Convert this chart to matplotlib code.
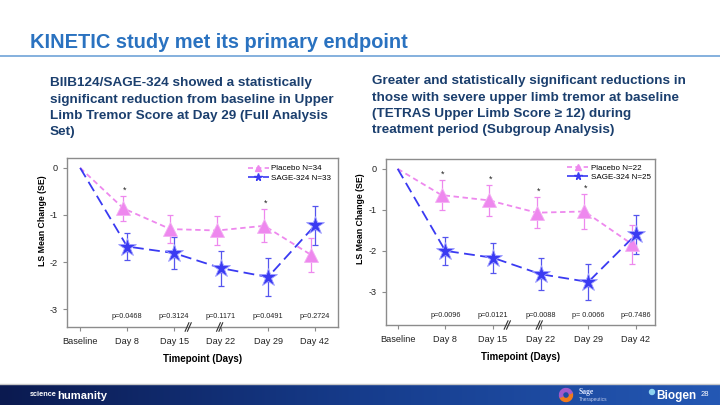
import numpy as np
import matplotlib.pyplot as plt
from matplotlib.lines import Line2D
from matplotlib.patches import Wedge
from matplotlib.colors import LinearSegmentedColormap

plt.rcParams['font.family'] = ['Liberation Sans', 'DejaVu Sans']

# ---------------- data ----------------
timepoints = ['Baseline', 'Day 8', 'Day 15', 'Day 22', 'Day 29', 'Day 42']
ytick_vals = [0, -1, -2, -3]
ytick_labels = ['0', '-1', '-2', '-3']

# full analysis set
fas_placebo = [0, -0.86, -1.30, -1.33, -1.23, -1.85]
fas_placebo_se = [0, 0.26, 0.30, 0.31, 0.35, 0.37]
fas_sage = [0, -1.67, -1.81, -2.13, -2.32, -1.22]
fas_sage_se = [0, 0.29, 0.34, 0.37, 0.40, 0.41]
fas_pvals = ['p=0.0468', 'p=0.3124', 'p=0.1171', 'p=0.0491', 'p=0.2724']
fas_signif = [True, False, False, True, False]
fas_n = ('Placebo N=34', 'SAGE-324 N=33')

# severe subgroup
sub_placebo = [0, -0.64, -0.77, -1.07, -1.04, -1.84]
sub_placebo_se = [0, 0.36, 0.37, 0.38, 0.42, 0.48]
sub_sage = [0, -2.00, -2.17, -2.57, -2.76, -1.60]
sub_sage_se = [0, 0.34, 0.37, 0.39, 0.43, 0.48]
sub_pvals = ['p=0.0096', 'p=0.0121', 'p=0.0088', 'p= 0.0066', 'p=0.7486']
sub_signif = [True, True, True, True, False]
sub_n = ('Placebo N=22', 'SAGE-324 N=25')

PINK = '#EE88EE'
BLUE = '#3A3AF2'
TITLE_BLUE = '#2A72C0'
TEXT_NAVY = '#1B3F6E'
FRAME = '#8C8C8C'

W, H = 720, 405
fig = plt.figure(figsize=(7.2, 4.05), dpi=100)


def px_axes(x0, y0, x1, y1):
    return fig.add_axes([x0 / W, 1 - y1 / H, (x1 - x0) / W, (y1 - y0) / H])


# ---------------- header ----------------
fig.text(30 / W, 1 - 42 / H, 'KINETIC study met its primary endpoint', color=TITLE_BLUE,
         fontsize=14.4, fontweight='bold', va='center', ha='left')
fig.add_artist(Line2D([0, 1], [1 - 56 / H, 1 - 56 / H], color='#6FA3D8', lw=1.2))

left_text = ('BIIB124/SAGE-324 showed a statistically\n'
             'significant reduction from baseline in Upper\n'
             'Limb Tremor Score at Day 29 (Full Analysis\n'
             'Set)')
right_text = ('Greater and statistically significant reductions in\n'
              'those with severe upper limb tremor at baseline\n'
              '(TETRAS Upper Limb Score \u2265 12) during\n'
              'treatment period (Subgroup Analysis)')
fig.text(50 / W, 1 - 77 / H, left_text, color=TEXT_NAVY, fontsize=9.7, fontweight='bold',
         va='top', ha='left', linespacing=1.5)
fig.text(372 / W, 1 - 75 / H, right_text, color=TEXT_NAVY, fontsize=9.7, fontweight='bold',
         va='top', ha='left', linespacing=1.5)


# ---------------- charts ----------------
def draw_panel(ax, placebo, placebo_se, sage, sage_se, pvals, signif, labels, ylim, xlim,
               ylab_x, ylab_y, leg_anchor):
    x = np.arange(len(timepoints))
    xp = x - 0.08
    xp[0] = 0
    ax.errorbar(xp[1:], placebo[1:], yerr=placebo_se[1:], fmt='none', ecolor=PINK,
                elinewidth=0.9, capsize=2, capthick=0.9, zorder=2)
    ax.errorbar(x[1:], sage[1:], yerr=sage_se[1:], fmt='none', ecolor='#5555EE',
                elinewidth=0.9, capsize=2, capthick=0.9, zorder=2)
    ax.plot(xp, placebo, color=PINK, ls=(0, (3, 2)), lw=1.3, zorder=3)
    ax.plot(x, sage, color=BLUE, ls=(0, (6, 3)), lw=1.3, zorder=3)
    ax.plot(xp[1:], placebo[1:], ls='none', marker='^', ms=9.5, color=PINK,
            mec='#F3B0F3', mew=0.6, zorder=4)
    ax.plot(x[1:], sage[1:], ls='none', marker='*', ms=13.5, color=BLUE,
            mec='#A0A0FF', mew=0.6, zorder=5)

    for i, (p, s) in enumerate(zip(pvals, signif)):
        ax.text(x[i + 1], ylim[0] + 0.15, p, fontsize=5.2, ha='center', va='bottom', color='#222222')
        if s:
            ax.text(xp[i + 1] + 0.03, placebo[i + 1] + placebo_se[i + 1] + 0.03, '*',
                    fontsize=6.5, ha='center', va='bottom', color='#222222')

    ax.set_xlim(*xlim)
    ax.set_ylim(*ylim)
    ax.set_xticks(x)
    ax.set_xticklabels(timepoints, fontsize=6.6)
    ax.set_yticks(ytick_vals)
    ax.set_yticklabels(ytick_labels, fontsize=6.6)
    for sp in ax.spines.values():
        sp.set_color(FRAME)
        sp.set_linewidth(1.0)
    ax.tick_params(axis='both', direction='out', length=3, width=0.8, color=FRAME,
                   labelcolor='#222222', pad=4)
    ax.set_xlabel('Timepoint (Days)', fontsize=7, fontweight='bold', labelpad=6)
    ax.set_ylabel('LS Mean Change (SE)', fontsize=6.3, fontweight='bold')
    ax.yaxis.set_label_coords(ylab_x, ylab_y)

    # axis break marks
    tr = ax.get_xaxis_transform()
    for xb in (2.3, 2.97):
        for dx in (-0.025, 0.025):
            ax.plot([xb + dx - 0.04, xb + dx + 0.04], [-0.025, 0.025], transform=tr,
                    color='#333333', lw=0.8, clip_on=False, zorder=6)

    handles = [Line2D([], [], color=PINK, ls=(0, (3, 2)), lw=1.2, marker='^', ms=4.5),
               Line2D([], [], color=BLUE, ls=(0, (6, 3)), lw=1.2, marker='*', ms=5.5)]
    ax.legend(handles, labels, loc='upper right', bbox_to_anchor=leg_anchor, frameon=False,
              fontsize=5.8, handlelength=2.6, handletextpad=0.3, labelspacing=0.2,
              borderaxespad=0, borderpad=0.2)


ax1 = px_axes(67, 158, 338, 327)
draw_panel(ax1, fas_placebo, fas_placebo_se, fas_sage, fas_sage_se, fas_pvals, fas_signif,
           fas_n, (-3.38, 0.21), (-0.28, 5.49), -0.074, 0.63, (0.98, 0.97))
ax2 = px_axes(386, 159, 655, 325)
draw_panel(ax2, sub_placebo, sub_placebo_se, sub_sage, sub_sage_se, sub_pvals, sub_signif,
           sub_n, (-3.81, 0.24), (-0.245, 5.40), -0.078, 0.64, (0.99, 0.98))

# ---------------- footer ----------------
fax = fig.add_axes([0, 0, 1, 21 / H])
grad = np.linspace(0, 1, 256).reshape(1, -1)
cmap = LinearSegmentedColormap.from_list('band', ['#0B1A50', '#163C8C', '#2458B4'])
fax.imshow(grad, aspect='auto', cmap=cmap, extent=[0, W, 0, 21])
fax.set_xlim(0, W)
fax.set_ylim(0, 21)
fax.axis('off')
fig.add_artist(Line2D([0, 1], [21.5 / H, 21.5 / H], color='#C8C8C8', lw=1.0))

fax.text(30, 10.5, 'science', color='white', fontsize=5.3, fontweight='bold', va='center', ha='left')
fax.text(57, 9, 'humanity', color='white', fontsize=8, fontweight='bold', va='center', ha='left')
fax.add_patch(Wedge((566, 10), 6.5, 200, 380, width=3, color='#F07A1E'))
fax.add_patch(Wedge((566, 10), 6.5, 20, 200, width=3, color='#A05ACB'))
fax.text(579, 13.5, 'Sage', color='#DDE6FF', fontsize=5.5, fontweight='bold', va='center', ha='left',
         family=['Liberation Serif', 'DejaVu Serif'])
fax.text(579, 6, 'Therapeutics', color='#BFCBEA', fontsize=3.5, va='center', ha='left')
fax.add_patch(plt.Circle((652, 13), 2.5, color='#8FD3F0'))
fax.text(656, 9, 'Biogen', color='white', fontsize=8.5, fontweight='bold', va='center', ha='left')
fax.text(701, 10, '28', color='white', fontsize=5.5, va='center', ha='left')

fig.savefig('out.png', dpi=100)
